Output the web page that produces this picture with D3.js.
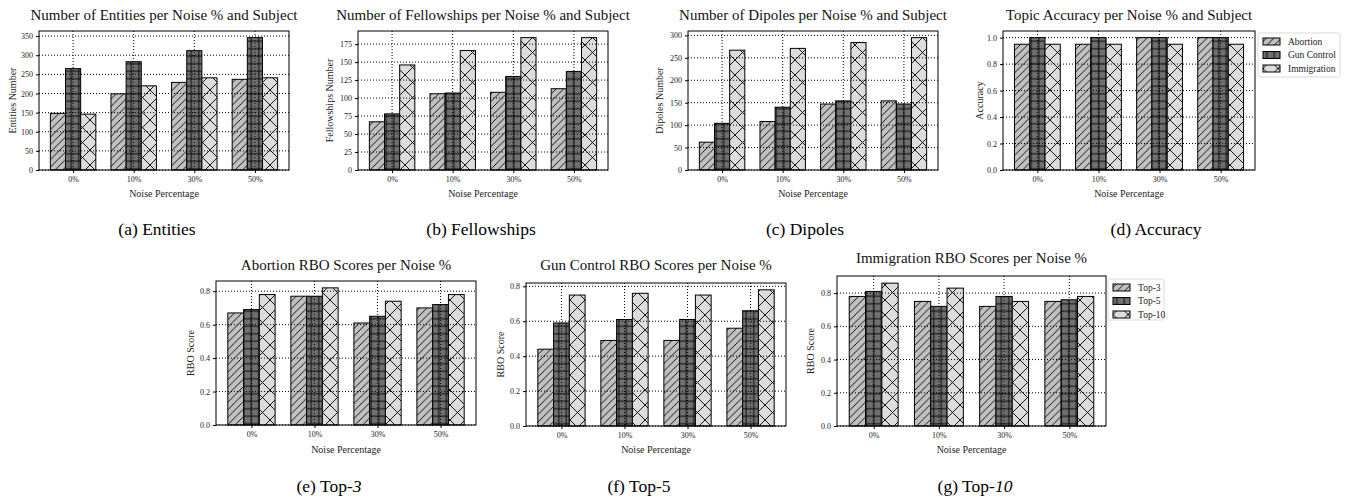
<!DOCTYPE html>
<html>
<head>
<meta charset="utf-8">
<script src="https://cdn.jsdelivr.net/npm/d3@7"></script>
<style>
  body { margin: 0; background: #fff; }
  svg { display: block; font-family: "Liberation Serif", "DejaVu Serif", serif; }
</style>
</head>
<body>
<script>
// Categories
const noiseLevels = ["0%", "10%", "30%", "50%"];
const subjects = ["Abortion", "Gun Control", "Immigration"];
const topKs = ["Top-3", "Top-5", "Top-10"];

// (a) entities per subject
const entitiesAbortion = [148, 199, 229, 237];
const entitiesGunControl = [265, 283, 312, 346];
const entitiesImmigration = [146, 220, 241, 241];

// (b) fellowships per subject
const fellowshipsAbortion = [67, 106, 108, 113];
const fellowshipsGunControl = [78, 107, 130, 137];
const fellowshipsImmigration = [146, 166, 184, 184];

// (c) dipoles per subject
const dipolesAbortion = [62, 108, 147, 154];
const dipolesGunControl = [104, 140, 154, 147];
const dipolesImmigration = [267, 271, 284, 295];

// (d) topic accuracy per subject
const accuracyAbortion = [0.95, 0.95, 1.0, 1.0];
const accuracyGunControl = [1.0, 1.0, 1.0, 1.0];
const accuracyImmigration = [0.95, 0.95, 0.95, 0.95];

// (e)-(g) RBO scores, Top-3 / Top-5 / Top-10
const rboAbortionTop3 = [0.67, 0.77, 0.61, 0.70];
const rboAbortionTop5 = [0.69, 0.77, 0.65, 0.72];
const rboAbortionTop10 = [0.78, 0.82, 0.74, 0.78];

const rboGunControlTop3 = [0.44, 0.49, 0.49, 0.56];
const rboGunControlTop5 = [0.59, 0.61, 0.61, 0.66];
const rboGunControlTop10 = [0.75, 0.76, 0.75, 0.78];

const rboImmigrationTop3 = [0.78, 0.75, 0.72, 0.75];
const rboImmigrationTop5 = [0.81, 0.72, 0.78, 0.76];
const rboImmigrationTop10 = [0.86, 0.83, 0.75, 0.78];

// Layout / styling
const width = 1347, height = 502;
const fills = ["#c0c0c0", "#707070", "#dcdcdc"];
const barWidth = 0.25;

const panels = [
  { title: "Number of Entities per Noise % and Subject", ylabel: "Entities Number",
    series: [entitiesAbortion, entitiesGunControl, entitiesImmigration], step: 50, fmt: d3.format("d"),
    box: [39, 289, 31, 170], ylabelX: 12, titleY: 20, tickY: 180, xlabelY: 197 },
  { title: "Number of Fellowships per Noise % and Subject", ylabel: "Fellowships Number",
    series: [fellowshipsAbortion, fellowshipsGunControl, fellowshipsImmigration], step: 25, fmt: d3.format("d"),
    box: [358, 608, 31, 170], ylabelX: 329, titleY: 20, tickY: 180, xlabelY: 197 },
  { title: "Number of Dipoles per Noise % and Subject", ylabel: "Dipoles Number",
    series: [dipolesAbortion, dipolesGunControl, dipolesImmigration], step: 50, fmt: d3.format("d"),
    box: [688, 938, 31, 170], ylabelX: 659, titleY: 20, tickY: 180, xlabelY: 197 },
  { title: "Topic Accuracy per Noise % and Subject", ylabel: "Accuracy",
    series: [accuracyAbortion, accuracyGunControl, accuracyImmigration], step: 0.2, fmt: d3.format(".1f"),
    box: [1003, 1255, 31, 170], ylabelX: 979, titleY: 20, tickY: 180, xlabelY: 197,
    legend: { labels: subjects, x: 1258, y: 33, w: 82, h: 44 } },
  { title: "Abortion RBO Scores per Noise %", ylabel: "RBO Score",
    series: [rboAbortionTop3, rboAbortionTop5, rboAbortionTop10], step: 0.2, fmt: d3.format(".1f"),
    box: [216, 476, 281, 425], ylabelX: 190, titleY: 270, tickY: 436, xlabelY: 453 },
  { title: "Gun Control RBO Scores per Noise %", ylabel: "RBO Score",
    series: [rboGunControlTop3, rboGunControlTop5, rboGunControlTop10], step: 0.2, fmt: d3.format(".1f"),
    box: [526, 786, 283, 426], ylabelX: 500, titleY: 270, tickY: 436, xlabelY: 453 },
  { title: "Immigration RBO Scores per Noise %", ylabel: "RBO Score",
    series: [rboImmigrationTop3, rboImmigrationTop5, rboImmigrationTop10], step: 0.2, fmt: d3.format(".1f"),
    box: [837, 1106, 276, 426], ylabelX: 810, titleY: 263, tickY: 436, xlabelY: 453,
    legend: { labels: topKs, x: 1108, y: 279, w: 56, h: 41 } }
];

const captions = [
  { x: 157, y: 235, parts: [["(a) Entities", false]] },
  { x: 481, y: 235, parts: [["(b) Fellowships", false]] },
  { x: 805, y: 235, parts: [["(c) Dipoles", false]] },
  { x: 1156, y: 235, parts: [["(d) Accuracy", false]] },
  { x: 329, y: 492, parts: [["(e) Top-", false], ["3", true]] },
  { x: 639, y: 492, parts: [["(f) Top-5", false]] },
  { x: 975, y: 492, parts: [["(g) Top-", false], ["10", true]] }
];

const svg = d3.select("body").append("svg")
  .attr("width", width)
  .attr("height", height);

// Hatch patterns: '//' light grey, '++' dark grey, 'x' very light grey
const defs = svg.append("defs");
function hatch(id, size, fill, lines) {
  const p = defs.append("pattern")
    .attr("id", id)
    .attr("patternUnits", "userSpaceOnUse")
    .attr("width", size).attr("height", size);
  p.append("rect").attr("width", size).attr("height", size).attr("fill", fill);
  lines.forEach(l => p.append("line")
    .attr("x1", l[0]).attr("y1", l[1]).attr("x2", l[2]).attr("y2", l[3])
    .attr("stroke", "#000").attr("stroke-width", 0.9));
}
const s1 = 7.5, s2 = 7.5, s3 = 15;
hatch("h0", s1, fills[0], [[0, s1, s1, 0], [-1, 1, 1, -1], [s1 - 1, s1 + 1, s1 + 1, s1 - 1]]);
hatch("h1", s2, fills[1], [[0, s2 / 2, s2, s2 / 2], [s2 / 2, 0, s2 / 2, s2]]);
hatch("h2", s3, fills[2], [[0, s3, s3, 0], [0, 0, s3, s3], [-1, 1, 1, -1], [s3 - 1, s3 + 1, s3 + 1, s3 - 1],
  [-1, s3 - 1, 1, s3 + 1], [s3 - 1, -1, s3 + 1, 1]]);

panels.forEach(drawPanel);

function drawPanel(p) {
  const [left, right, top, bottom] = p.box;
  const g = svg.append("g");

  const x = d3.scaleLinear()
    .domain([-0.5625, noiseLevels.length - 1 + 0.5625])
    .range([left, right]);
  const yMax = d3.max(p.series.flat()) * 1.05;
  const y = d3.scaleLinear().domain([0, yMax]).range([bottom, top]);
  const yTicks = d3.range(0, yMax + 1e-9, p.step);

  // bars
  p.series.forEach((vals, j) => {
    g.append("g").selectAll("rect")
      .data(vals)
      .join("rect")
      .attr("x", (d, i) => x(i + (j - 1) * barWidth - barWidth / 2))
      .attr("y", d => y(d))
      .attr("width", x(barWidth) - x(0))
      .attr("height", d => y(0) - y(d))
      .attr("fill", `url(#h${j})`)
      .attr("stroke", "#000")
      .attr("stroke-width", 1);
  });

  // dotted grid on top of the bars
  const grid = g.append("g")
    .attr("stroke", "#000")
    .attr("stroke-width", 1)
    .attr("stroke-dasharray", "1,2");
  grid.selectAll(".gy").data(yTicks).join("line")
    .attr("x1", left).attr("x2", right)
    .attr("y1", d => y(d)).attr("y2", d => y(d));
  grid.selectAll(".gx").data(noiseLevels).join("line")
    .attr("x1", (d, i) => x(i)).attr("x2", (d, i) => x(i))
    .attr("y1", top).attr("y2", bottom);

  // frame
  g.append("rect")
    .attr("x", left).attr("y", top)
    .attr("width", right - left).attr("height", bottom - top)
    .attr("fill", "none").attr("stroke", "#000").attr("stroke-width", 1);

  // axes
  const yAxis = g.append("g")
    .attr("transform", `translate(${left},0)`)
    .call(d3.axisLeft(y).tickValues(yTicks).tickFormat(p.fmt).tickSize(3).tickPadding(3));
  yAxis.select(".domain").remove();
  yAxis.selectAll("line").attr("stroke", "#000");
  yAxis.selectAll("text").attr("font-size", 8).attr("fill", "#222").attr("font-family", "Liberation Serif");

  const xAxis = g.append("g")
    .attr("transform", `translate(0,${bottom})`)
    .call(d3.axisBottom(x).tickValues(d3.range(noiseLevels.length))
      .tickFormat(i => noiseLevels[i]).tickSize(3).tickPadding(3));
  xAxis.select(".domain").remove();
  xAxis.selectAll("line").attr("stroke", "#000");
  xAxis.selectAll("text").attr("font-size", 8).attr("fill", "#222").attr("font-family", "Liberation Serif");

  // labels
  g.append("text")
    .attr("x", (left + right) / 2).attr("y", p.titleY)
    .attr("text-anchor", "middle")
    .attr("font-size", 15)
    .attr("fill", "#111")
    .text(p.title);
  g.append("text")
    .attr("x", (left + right) / 2).attr("y", p.xlabelY)
    .attr("text-anchor", "middle")
    .attr("font-size", 10)
    .attr("fill", "#222")
    .text("Noise Percentage");
  g.append("text")
    .attr("transform", `translate(${p.ylabelX},${(top + bottom) / 2}) rotate(-90)`)
    .attr("text-anchor", "middle")
    .attr("dominant-baseline", "central")
    .attr("font-size", 10)
    .attr("fill", "#222")
    .text(p.ylabel);

  if (p.legend) drawLegend(p.legend);
}

function drawLegend(L) {
  const lg = svg.append("g");
  lg.append("rect")
    .attr("x", L.x).attr("y", L.y).attr("width", L.w).attr("height", L.h)
    .attr("rx", 2)
    .attr("fill", "#fff").attr("stroke", "#d0d0d0").attr("stroke-width", 0.8);
  const rowH = 13.5;
  const items = lg.selectAll(".item").data(L.labels).join("g")
    .attr("transform", (d, i) => `translate(${L.x + 5},${L.y + 8.5 + i * rowH})`);
  items.append("rect")
    .attr("x", 0).attr("y", -3.5).attr("width", 17).attr("height", 7)
    .attr("fill", (d, i) => `url(#h${i})`)
    .attr("stroke", "#000").attr("stroke-width", 1);
  items.append("text")
    .attr("x", 25).attr("dy", "0.35em")
    .attr("font-size", 9.5)
    .attr("fill", "#222")
    .text(d => d);
}

// sub-figure captions
captions.forEach(c => {
  const t = svg.append("text")
    .attr("x", c.x).attr("y", c.y)
    .attr("text-anchor", "middle")
    .attr("font-size", 17.5);
  c.parts.forEach(([s, it]) => t.append("tspan")
    .attr("font-style", it ? "italic" : "normal")
    .text(s));
});
</script>
</body>
</html>
